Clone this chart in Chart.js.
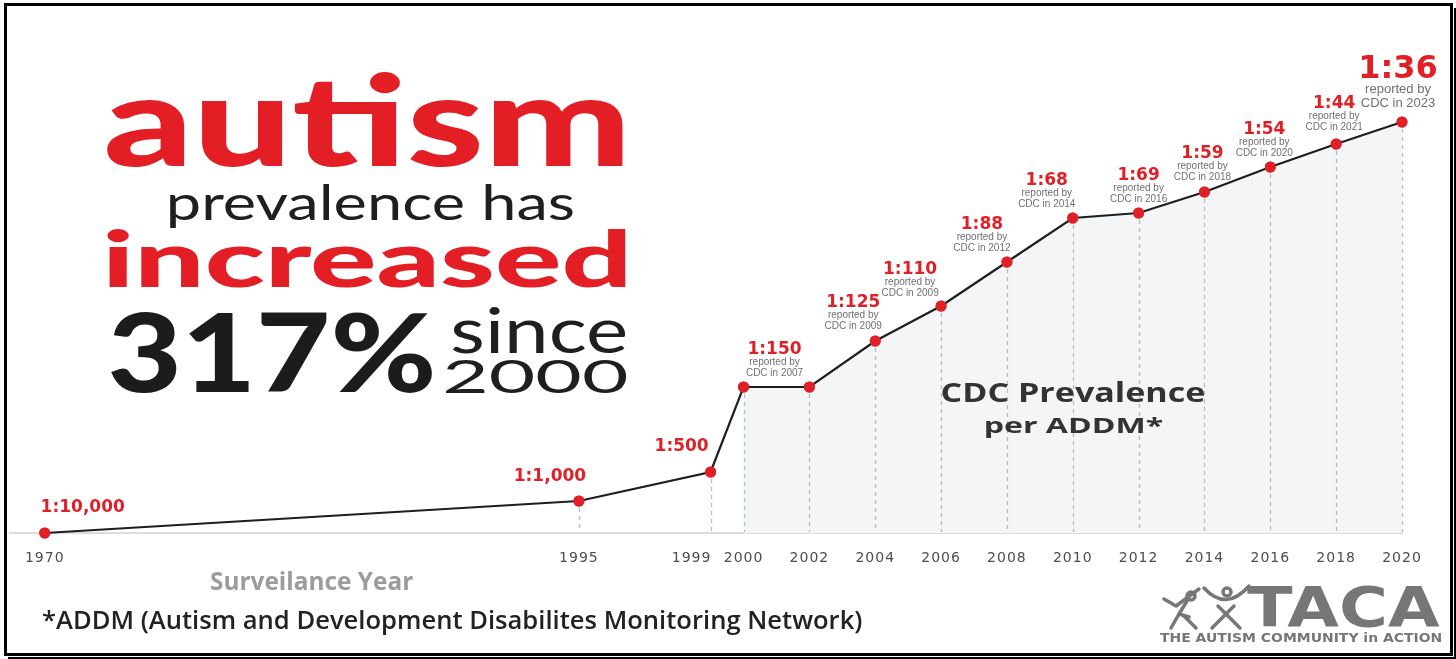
<!DOCTYPE html>
<html>
<head>
<meta charset="utf-8">
<script src="https://cdn.jsdelivr.net/npm/chart.js@4"></script>
<style>
  html, body { margin: 0; padding: 0; background: #ffffff; }
  #wrap { position: relative; width: 1456px; height: 659px; }
</style>
</head>
<body>
<div id="wrap"><canvas id="c"></canvas></div>
<script>
// ---------------- DATA ----------------
const surveillanceYears = [1970, 1995, 1999, 2000, 2002, 2004, 2006, 2008, 2010, 2012, 2014, 2016, 2018, 2020];
// visual height of each point on the chart
const levels = [0, 32, 61, 146, 146, 192, 227, 271, 315, 320, 341, 366, 389, 411];
const prevalenceLabels = ['1:10,000', '1:1,000', '1:500', '1:150', null, '1:125', '1:110', '1:88', '1:68', '1:69', '1:59', '1:54', '1:44', '1:36'];
const reportedYears = [null, null, null, 2007, null, 2009, 2009, 2012, 2014, 2016, 2018, 2020, 2021, 2023];
const tickYears = [1970, 1995, 1999, 2000, 2002, 2004, 2006, 2008, 2010, 2012, 2014, 2016, 2018, 2020];
const shadeFromYear = 2000;

// ---------------- STYLE ----------------
// broken axis: years before 1995 are compressed
const BREAK_YEAR = 1995, COMPRESS = 0.649;
function axisPos(y) { return y >= BREAK_YEAR ? y : BREAK_YEAR - (BREAK_YEAR - y) * COMPRESS; }
const labelDx = [38, -29, -29, 31, 0, -22, -31, -25, -26, 0, -2, -6, -2, -4];
const labelDy = [-25, -24, -25, -37, 0, -38, -36, -37, -37, -37, -38, -37, -40, -52];
const tickPad = { 1999: '       ' };   // 1999 label sits left of its tick
const RED = '#e01f26';

function drawBox(ctx, text, font, color, L, R, T, B) {
  ctx.save();
  ctx.font = font;
  ctx.textAlign = 'left';
  ctx.textBaseline = 'alphabetic';
  const m = ctx.measureText(text);
  const w = m.actualBoundingBoxLeft + m.actualBoundingBoxRight;
  const h = m.actualBoundingBoxAscent + m.actualBoundingBoxDescent;
  ctx.translate(L, T);
  ctx.scale((R - L) / w, (B - T) / h);
  ctx.fillStyle = color;
  ctx.fillText(text, m.actualBoundingBoxLeft, m.actualBoundingBoxAscent);
  ctx.restore();
}

const decorPlugin = {
  id: 'decor',
  beforeDraw(chart) { chart.ctx.letterSpacing = '1px'; },
  beforeDatasetsDraw(chart) { chart.ctx.letterSpacing = '0px'; },
  afterDatasetsDraw(chart) {
    const ctx = chart.ctx;
    ctx.letterSpacing = '0px';
    const meta = chart.getDatasetMeta(0);
    const base = chart.scales.y.getPixelForValue(0);
    // dashed drop lines
    ctx.save();
    ctx.strokeStyle = '#b9b9b9';
    ctx.lineWidth = 1.3;
    ctx.setLineDash([4, 4]);
    meta.data.forEach((pt, i) => {
      if (levels[i] <= 0) return;
      ctx.beginPath();
      ctx.moveTo(Math.round(pt.x) + 0.5, pt.y + 7);
      ctx.lineTo(Math.round(pt.x) + 0.5, base - 1);
      ctx.stroke();
    });
    ctx.restore();
    // redraw points over dashes
    ctx.save();
    meta.data.forEach((pt) => {
      ctx.beginPath();
      ctx.arc(pt.x, pt.y, 5.5, 0, Math.PI * 2);
      ctx.fillStyle = RED;
      ctx.fill();
    });
    ctx.restore();
    // prevalence labels
    const last = prevalenceLabels.length - 1;
    meta.data.forEach((pt, i) => {
      const lab = prevalenceLabels[i];
      if (!lab) return;
      const cx = pt.x + labelDx[i];
      const cy = pt.y + labelDy[i];
      const big = i === last;
      ctx.save();
      ctx.textAlign = 'center';
      ctx.textBaseline = 'middle';
      ctx.fillStyle = RED;
      ctx.font = big ? 'bold 32px "DejaVu Sans"' : 'bold 17px "DejaVu Sans"';
      ctx.fillText(lab, cx, cy);
      if (reportedYears[i]) {
        ctx.fillStyle = '#6f6f6f';
        ctx.font = big ? '13px "Liberation Sans"' : '10px "Liberation Sans"';
        ctx.fillText('reported by', cx, cy + (big ? 19 : 12.5));
        ctx.fillText('CDC in ' + reportedYears[i], cx, cy + (big ? 33 : 23));
      }
      ctx.restore();
    });
  },
  afterDraw(chart) {
    const ctx = chart.ctx;
    ctx.letterSpacing = '0px';
    // headline
    drawBox(ctx, 'autism', '900 100px Lato, "Open Sans", sans-serif', '#e31e24', 107, 624, 73, 167);
    drawBox(ctx, 'prevalence has', '400 60px Lato, "Open Sans", sans-serif', '#1f1f1f', 170, 573, 185, 228);
    drawBox(ctx, 'increased', '900 100px Lato, "Open Sans", sans-serif', '#e31e24', 107, 626, 230, 288);
    drawBox(ctx, '317%', '900 100px Lato, "Open Sans", sans-serif', '#1c1c1c', 110, 433, 312, 393);
    drawBox(ctx, 'since', '400 60px Lato, "Open Sans", sans-serif', '#1f1f1f', 453, 626, 308, 353);
    drawBox(ctx, '2000', '400 60px Lato, "Open Sans", sans-serif', '#1f1f1f', 445, 626, 360, 393);
    // axis title
    drawBox(ctx, 'Surveilance Year', '700 18px "Open Sans", sans-serif', '#9c9c9c', 210, 413, 571, 590);
    // center caption
    drawBox(ctx, 'CDC Prevalence', '700 24px "Open Sans", sans-serif', '#333333', 942, 1205, 382, 402);
    drawBox(ctx, 'per ADDM*', '700 24px "Open Sans", sans-serif', '#333333', 985, 1163, 417, 438);
    // footnote
    drawBox(ctx, '*ADDM (Autism and Development Disabilites Monitoring Network)', '600 20px "Open Sans", sans-serif', '#222222', 42, 862, 609, 635);
    // logo
    drawBox(ctx, 'TACA', '700 50px "DejaVu Sans", sans-serif', '#767676', 1247, 1440, 585, 627);
    drawBox(ctx, 'THE AUTISM COMMUNITY in ACTION', '700 12px "DejaVu Sans", sans-serif', '#767676', 1160, 1441, 632, 642);
    ctx.save();
    ctx.strokeStyle = '#777777';
    ctx.lineWidth = 3.5;
    ctx.lineCap = 'round';
    ctx.lineJoin = 'round';
    // left figure
    ctx.beginPath(); ctx.arc(1191, 596, 4, 0, Math.PI * 2); ctx.stroke();
    ctx.beginPath(); ctx.moveTo(1164, 599); ctx.lineTo(1176, 606); ctx.lineTo(1199, 589); ctx.stroke();
    ctx.beginPath(); ctx.moveTo(1187, 601); ctx.lineTo(1179, 614); ctx.lineTo(1189, 617); ctx.stroke();
    ctx.beginPath(); ctx.moveTo(1179, 614); ctx.lineTo(1171, 628); ctx.stroke();
    ctx.beginPath(); ctx.moveTo(1184, 616); ctx.lineTo(1196, 628); ctx.stroke();
    // right figure
    ctx.beginPath(); ctx.moveTo(1204, 588); ctx.quadraticCurveTo(1226, 612, 1249, 586); ctx.stroke();
    ctx.beginPath(); ctx.arc(1227, 592, 4, 0, Math.PI * 2); ctx.stroke();
    ctx.beginPath(); ctx.moveTo(1218, 606); ctx.lineTo(1240, 628); ctx.stroke();
    ctx.beginPath(); ctx.moveTo(1234, 606); ctx.lineTo(1212, 628); ctx.stroke();
    ctx.restore();
    // frame
    ctx.save();
    ctx.strokeStyle = '#000000';
    ctx.lineWidth = 3;
    ctx.strokeRect(5.5, 4.5, 1446, 650);
    ctx.lineWidth = 2;
    ctx.beginPath(); ctx.moveTo(1455, 8); ctx.lineTo(1455, 658); ctx.lineTo(8, 658); ctx.stroke();
    ctx.restore();
  }
};

const mainPoints = surveillanceYears.map((y, i) => ({ x: axisPos(y), y: levels[i] }));
const shadePoints = surveillanceYears
  .map((y, i) => ({ yr: y, x: axisPos(y), y: levels[i] }))
  .filter(p => p.yr >= shadeFromYear)
  .map(p => ({ x: p.x, y: p.y }));
const tickPositions = tickYears.map(axisPos);

function build() {
  new Chart(document.getElementById('c'), {
    type: 'line',
    data: {
      datasets: [
        {
          data: mainPoints,
          borderColor: '#1e1e1e',
          borderWidth: 2.2,
          pointRadius: 5.5,
          pointBackgroundColor: RED,
          pointBorderWidth: 0,
          tension: 0,
          fill: false,
          clip: false,
          order: 0
        },
        {
          data: shadePoints,
          borderWidth: 0,
          borderColor: 'rgba(0,0,0,0)',
          backgroundColor: '#f3f5f7',
          pointRadius: 0,
          fill: 'origin',
          tension: 0,
          order: 1
        }
      ]
    },
    options: {
      responsive: true,
      maintainAspectRatio: false,
      animation: false,
      devicePixelRatio: 1,
      layout: { padding: { left: 10, right: 54, top: 33, bottom: 0 } },
      plugins: { legend: { display: false }, tooltip: { enabled: false } },
      scales: {
        x: {
          type: 'linear',
          min: 1977.72,
          max: 2020,
          afterBuildTicks: (axis) => { axis.ticks = tickPositions.map(v => ({ value: v })); },
          afterFit: (axis) => { axis.height = 126; },
          grid: { display: false, drawTicks: false },
          border: { display: true, color: '#dcdcdc', width: 2 },
          ticks: {
            autoSkip: false,
            maxRotation: 0,
            padding: 17,
            color: '#4d4d4d',
            font: { family: '"DejaVu Sans"', size: 14 },
            callback: (v) => {
              const i = tickPositions.findIndex(p => Math.abs(p - v) < 1e-6);
              if (i < 0) return '';
              const yr = tickYears[i];
              return String(yr) + (tickPad[yr] || '');
            }
          }
        },
        y: { display: false, min: 0, max: 500 }
      }
    },
    plugins: [decorPlugin]
  });
}
if (document.fonts && document.fonts.ready) {
  Promise.all([
    document.fonts.load('900 100px Lato'), document.fonts.load('400 60px Lato'),
    document.fonts.load('700 18px "Open Sans"'), document.fonts.load('600 20px "Open Sans"'),
    document.fonts.load('bold 17px "DejaVu Sans"'), document.fonts.load('10px "Liberation Sans"')
  ]).catch(() => {}).then(build);
} else { build(); }
</script>
</body>
</html>
